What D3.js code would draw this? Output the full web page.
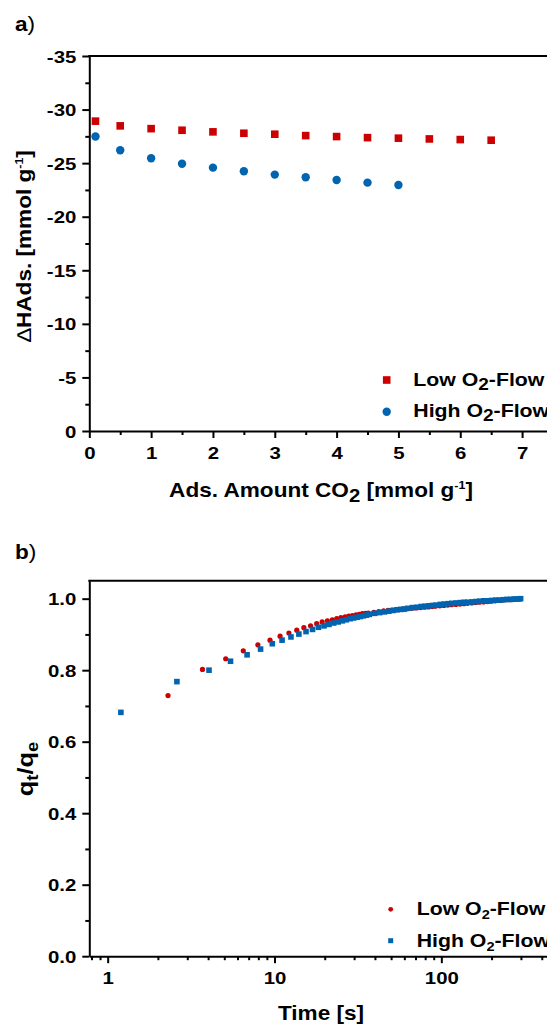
<!DOCTYPE html>
<html>
<head>
<meta charset="utf-8">
<script src="https://cdn.jsdelivr.net/npm/d3@7"></script>
<style>
  body { margin: 0; background: #fff; }
  svg text { font-family: "Liberation Sans", Arial, sans-serif; font-weight: bold; fill: #000; }
  .tick text { font-size: 17px; }
  .tick line { stroke: #000; stroke-width: 2; }
  .domain { stroke: #000; stroke-width: 2; }
</style>
</head>
<body>
<div id="chart"></div>
<script>
(function adsorptionCharts(){

  //panel a) adsorption enthalpy vs adsorbed amount
  var amountLow = [0.1, 0.5, 1, 1.5, 2, 2.5, 3, 3.5, 4, 4.5, 5, 5.5, 6, 6.5];
  var enthalpyLow = [-28.92, -28.48, -28.22, -28.07, -27.92, -27.79, -27.70, -27.57, -27.48, -27.38, -27.33, -27.26, -27.20, -27.14];
  var amountHigh = [0.1, 0.5, 1, 1.5, 2, 2.5, 3, 3.5, 4, 4.5, 5];
  var enthalpyHigh = [-27.48, -26.21, -25.46, -24.95, -24.58, -24.24, -23.93, -23.68, -23.43, -23.18, -22.96];
  var ticksAX = [0, 1, 2, 3, 4, 5, 6, 7];
  var minorAX = [0.5, 1.5, 2.5, 3.5, 4.5, 5.5, 6.5];
  var ticksAY = [0, -5, -10, -15, -20, -25, -30, -35];
  var minorAY = [-2.5, -7.5, -12.5, -17.5, -22.5, -27.5, -32.5];

  //panel b) uptake kinetics q_t/q_e vs time
  var timeLow = [2.3, 3.7, 5.1, 6.5, 7.95, 9.4, 10.8, 12.2, 13.6, 15.0, 16.45, 17.9, 19.3, 20.75,
    22.2, 23.6, 25.0, 26.5, 27.9, 29.3, 30.8, 32.2, 33.6, 35.1, 36.5, 39.4, 42.2, 45.1, 48.0,
    50.8, 53.7, 56.5, 59.4, 62.2, 66.5, 70.8, 75.1, 79.4, 83.6, 87.9, 92.2, 97.9, 103.6, 109.3,
    115.0, 122.1, 129.3, 136.4, 143.5, 152.0, 160.6, 169.1, 179.1, 189.0, 199.0, 210.4, 221.8,
    233.2, 246.0, 258.9, 271.7, 284.5, 297.3];
  var qLow = [0.729, 0.802, 0.832, 0.854, 0.871, 0.884, 0.895, 0.904, 0.912, 0.919, 0.924, 0.930, 0.935, 0.938,
    0.941, 0.944, 0.947, 0.949, 0.951, 0.953, 0.955, 0.956, 0.958, 0.959, 0.960, 0.962, 0.964, 0.966, 0.967,
    0.968, 0.969, 0.970, 0.971, 0.972, 0.973, 0.974, 0.975, 0.976, 0.977, 0.978, 0.979, 0.980, 0.981, 0.982,
    0.983, 0.984, 0.985, 0.986, 0.987, 0.988, 0.989, 0.990, 0.991, 0.992, 0.993, 0.994, 0.995,
    0.996, 0.997, 0.997, 0.998, 0.999, 0.999];
  var timeHigh = [1.2, 2.6, 4.05, 5.45, 6.85, 8.25, 9.7, 11.1, 12.55, 14.0, 15.45, 16.9, 18.35, 19.8,
    21.2, 22.65, 24.1, 25.5, 26.95, 28.4, 29.8, 31.25, 32.7, 34.1, 35.55, 37.0, 39.85, 42.7, 45.6,
    48.45, 51.3, 54.2, 57.05, 59.9, 62.8, 67.1, 71.4, 75.65, 79.95, 84.25, 88.55, 92.85, 98.55,
    104.3, 110, 115.7, 122.85, 130, 137.1, 144.3, 152.85, 161.45, 170, 180, 190, 200, 211.5,
    223, 234.4, 247.3, 260.1, 273, 285.8, 298.7];
  var qHigh = [0.682, 0.768, 0.800, 0.825, 0.843, 0.859, 0.874, 0.884, 0.893, 0.901, 0.908, 0.914, 0.920, 0.924,
    0.928, 0.932, 0.935, 0.938, 0.941, 0.944, 0.946, 0.948, 0.950, 0.952, 0.954, 0.956, 0.959, 0.961, 0.963,
    0.965, 0.967, 0.969, 0.970, 0.971, 0.973, 0.975, 0.976, 0.978, 0.979, 0.980, 0.981, 0.982, 0.984,
    0.985, 0.986, 0.987, 0.988, 0.989, 0.990, 0.990, 0.991, 0.992, 0.993, 0.994, 0.994, 0.995, 0.996,
    0.996, 0.997, 0.998, 0.998, 0.999, 0.999, 1.000];
  var ticksBX = [1, 10, 100];
  var minorBX = [0.8, 0.9, 2, 3, 4, 5, 6, 7, 8, 9, 20, 30, 40, 50, 60, 70, 80, 90, 200, 300, 400];
  var ticksBY = [0, 0.2, 0.4, 0.6, 0.8, 1.0];
  var minorBY = [0.1, 0.3, 0.5, 0.7, 0.9];

  var red = '#cc0000', blue = '#0064b0';
  var left = 89.3, right = 553;

  //scales
  var xA = d3.scaleLinear().domain([0, 7.5]).range([left, right]),
      yA = d3.scaleLinear().domain([0, -35]).range([431, 56]),
      xB = d3.scaleLog().domain([0.776, 467]).range([left, right]),
      yB = d3.scaleLinear().domain([0, 1.05]).range([956.2, 580.8]);

  //plain hyphen for negatives, like the original
  var fmtInt = function(d){ return String(d); },
      fmtOne = d3.format('.1f');

  var svg = d3.select('#chart')
            .append('svg')
            .attr('width', 547)
            .attr('height', 1025);

  //the original figure uses wide glyphs: stretch text along its own direction
  function widen(sel, k){
    sel.attr('transform', function(){
      var x0 = +d3.select(this).attr('x') || 0;
      return 'translate(' + x0 + ',0) scale(' + k + ',1) translate(' + (-x0) + ',0)';
    });
  }

  function drawAxes(x, y, tX, mX, tY, mY, fmtX, fmtY){
    var top = y.range()[1], bottom = y.range()[0];

    //minor ticks first
    svg.append('g')
        .attr('transform', 'translate(0,' + bottom + ')')
        .call(d3.axisBottom(x).tickValues(mX).tickSize(4).tickSizeOuter(0).tickFormat(''))
        .select('.domain').remove();
    svg.append('g')
        .attr('transform', 'translate(' + left + ',0)')
        .call(d3.axisLeft(y).tickValues(mY).tickSize(4).tickSizeOuter(0).tickFormat(''))
        .select('.domain').remove();

    var gx = svg.append('g')
        .attr('transform', 'translate(0,' + bottom + ')')
        .call(d3.axisBottom(x).tickValues(tX).tickSize(7).tickSizeOuter(0).tickPadding(9).tickFormat(fmtX));
    widen(gx.selectAll('text'), 1.2);

    var gy = svg.append('g')
        .attr('transform', 'translate(' + left + ',0)')
        .call(d3.axisLeft(y).tickValues(tY).tickSize(7).tickSizeOuter(0).tickPadding(6).tickFormat(fmtY));
    gy.selectAll('text').attr('dy', '0.36em');
    widen(gy.selectAll('text'), 1.2);

    //frame top and right
    svg.append('path')
        .attr('d', 'M' + (left - 1) + ',' + top + 'H' + right + 'V' + bottom)
        .attr('fill', 'none')
        .attr('stroke', '#000')
        .attr('stroke-width', 2);
  }

  //---------------- panel a) ----------------
  drawAxes(xA, yA, ticksAX, minorAX, ticksAY, minorAY, fmtInt, fmtInt);

  svg.append('g').selectAll('rect')
      .data(amountLow)
      .enter()
      .append('rect')
      .attr('fill', red)
      .attr('x', function(d){ return xA(d) - 3.8; })
      .attr('y', function(d, i){ return yA(enthalpyLow[i]) - 3.8; })
      .attr('width', 7.6)
      .attr('height', 7.6);

  svg.append('g').selectAll('circle')
      .data(amountHigh)
      .enter()
      .append('circle')
      .attr('fill', blue)
      .attr('cx', function(d){ return xA(d); })
      .attr('cy', function(d, i){ return yA(enthalpyHigh[i]); })
      .attr('r', 4.2);

  //panel label
  var la = svg.append('text').attr('transform', 'translate(15,31) scale(1.13,1)').attr('font-size', 20);
  la.append('tspan').text('a');
  la.append('tspan').attr('font-weight', 'normal').text(')');

  //axis titles
  var tya = svg.append('text')
      .attr('transform', 'translate(31,246) rotate(-90) scale(1.13,1)')
      .attr('text-anchor', 'middle')
      .attr('font-size', 20);
  tya.append('tspan').attr('font-weight', 'normal').text('\u2206');
  tya.append('tspan').text('HAds. [mmol g');
  tya.append('tspan').attr('font-size', 11).attr('dy', -8).text('-1');
  tya.append('tspan').attr('dy', 8).text(']');

  var txa = svg.append('text')
      .attr('transform', 'translate(321,496.7) scale(1.13,1)')
      .attr('text-anchor', 'middle')
      .attr('font-size', 20);
  txa.append('tspan').text('Ads. Amount CO');
  txa.append('tspan').attr('font-size', 18).attr('dy', 5).text('2');
  txa.append('tspan').attr('dy', -5).text(' [mmol g');
  txa.append('tspan').attr('font-size', 11).attr('dy', -8).text('-1');
  txa.append('tspan').attr('dy', 8).text(']');

  //legend a)
  svg.append('rect').attr('fill', red).attr('x', 386.7 - 3.8).attr('y', 380 - 3.8).attr('width', 7.6).attr('height', 7.6);
  svg.append('circle').attr('fill', blue).attr('cx', 386.7).attr('cy', 411.7).attr('r', 4.2);
  [['Low O', 386], ['High O', 417]].forEach(function(item){
    var t = svg.append('text')
        .attr('transform', 'translate(413.3,' + item[1] + ') scale(1.12,1)')
        .attr('font-size', 19);
    t.append('tspan').text(item[0]);
    t.append('tspan').attr('font-size', 17).attr('dy', 4).text('2');
    t.append('tspan').attr('dy', -4).text('-Flow');
  });

  //---------------- panel b) ----------------
  drawAxes(xB, yB, ticksBX, minorBX, ticksBY, minorBY, fmtInt, fmtOne);

  svg.append('g').selectAll('circle')
      .data(timeLow)
      .enter()
      .append('circle')
      .attr('fill', red)
      .attr('cx', function(d){ return xB(d); })
      .attr('cy', function(d, i){ return yB(qLow[i]); })
      .attr('r', 2.6);

  svg.append('g').selectAll('rect')
      .data(timeHigh)
      .enter()
      .append('rect')
      .attr('fill', blue)
      .attr('x', function(d){ return xB(d) - 2.8; })
      .attr('y', function(d, i){ return yB(qHigh[i]) - 2.8; })
      .attr('width', 5.6)
      .attr('height', 5.6);

  var lb = svg.append('text').attr('transform', 'translate(15,559) scale(1.13,1)').attr('font-size', 20);
  lb.append('tspan').text('b');
  lb.append('tspan').attr('font-weight', 'normal').text(')');

  var tyb = svg.append('text')
      .attr('transform', 'translate(33,769) rotate(-90) scale(1.15,1)')
      .attr('text-anchor', 'middle')
      .attr('font-size', 22);
  tyb.append('tspan').text('q');
  tyb.append('tspan').attr('font-size', 16).attr('dy', 5).text('t');
  tyb.append('tspan').attr('dy', -5).text('/q');
  tyb.append('tspan').attr('font-size', 16).attr('dy', 5).text('e');

  svg.append('text')
      .attr('transform', 'translate(321,1020) scale(1.13,1)')
      .attr('text-anchor', 'middle')
      .attr('font-size', 20)
      .text('Time [s]');

  //legend b)
  svg.append('circle').attr('fill', red).attr('cx', 390.7).attr('cy', 909.3).attr('r', 2.4);
  svg.append('rect').attr('fill', blue).attr('x', 390.7 - 2.5).attr('y', 940.7 - 2.5).attr('width', 5).attr('height', 5);
  [['Low O', 915], ['High O', 946.7]].forEach(function(item){
    var t = svg.append('text')
        .attr('transform', 'translate(416.7,' + item[1] + ') scale(1.12,1)')
        .attr('font-size', 19);
    t.append('tspan').text(item[0]);
    t.append('tspan').attr('font-size', 13).attr('dy', 4).text('2');
    t.append('tspan').attr('dy', -4).text('-Flow');
  });

})();
</script>
</body>
</html>
